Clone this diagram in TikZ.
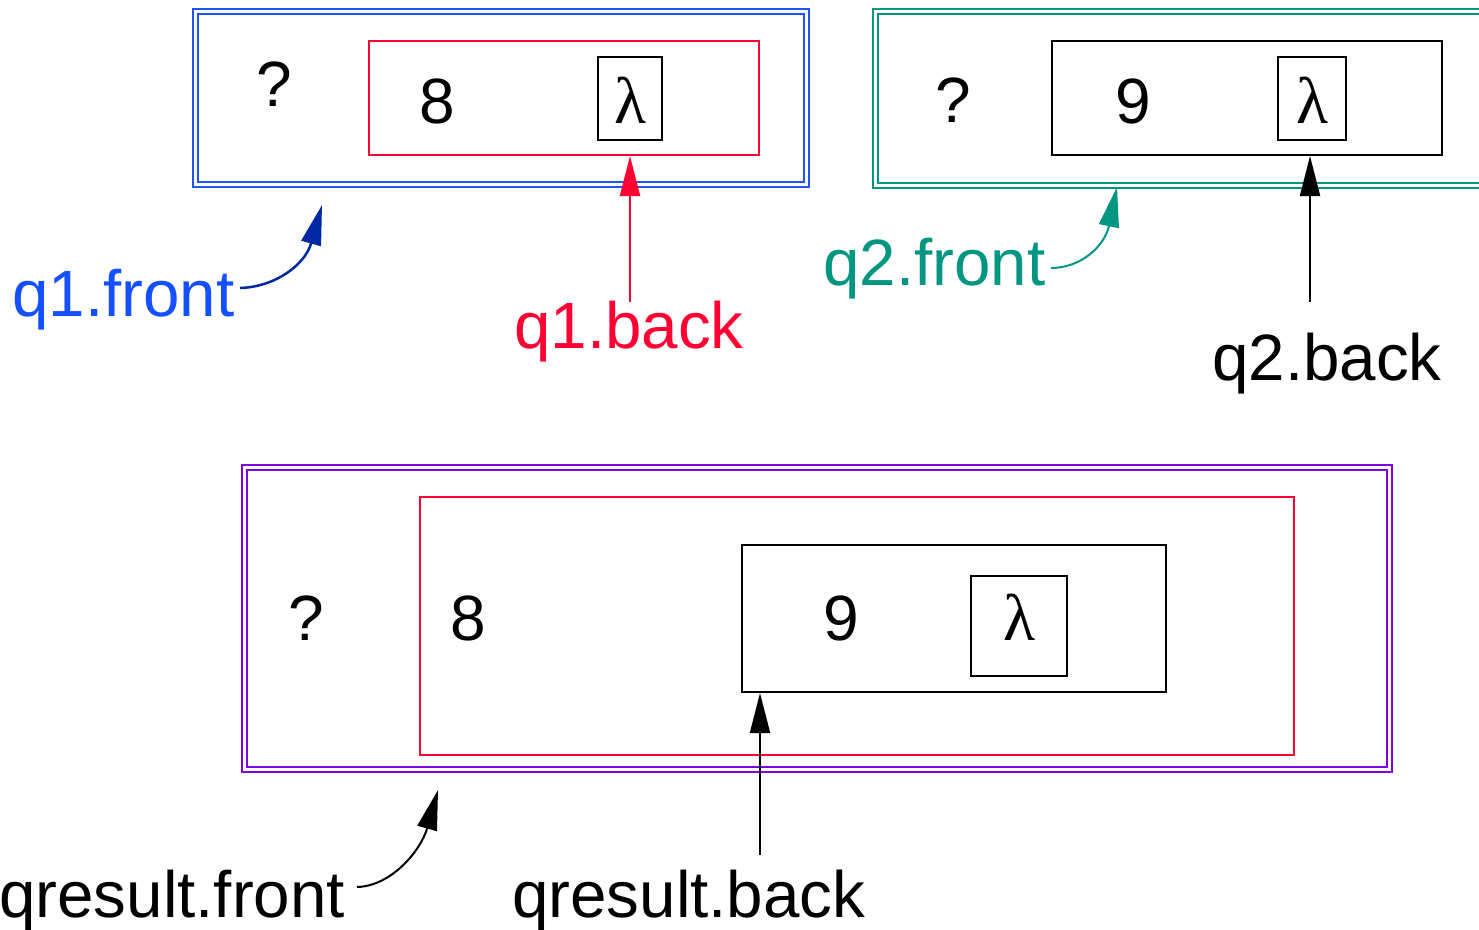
\documentclass[tikz,border=0pt]{standalone}
\usepackage{fontspec}
\setmainfont{Liberation Sans}
\newfontfamily\greekserif{Liberation Serif}
\usetikzlibrary{arrows.meta}
\definecolor{qblue}{RGB}{30,85,245}
\definecolor{qbluetext}{RGB}{20,80,255}
\definecolor{qdarkblue}{RGB}{0,40,160}
\definecolor{qred}{RGB}{255,0,51}
\definecolor{qteal}{RGB}{0,150,130}
\definecolor{qpurple}{RGB}{128,0,224}
\begin{document}
\begin{tikzpicture}[x=1pt,y=-1pt,
  big/.style={font=\fontsize{64}{72}\selectfont},
  lbl/.style={inner sep=0pt,anchor=base west,font=\fontsize{65.5}{72}\selectfont},
  sym/.style={big,inner sep=0pt,anchor=base},
  lam/.style={sym,font=\fontsize{66}{72}\selectfont\greekserif},
  cell/.style={draw,rectangle,inner sep=0pt},
  outerbox/.style={cell,double=white,line width=2pt,double distance=3pt},
  box/.style={cell,line width=2pt},
  lambox/.style={cell,line width=2.5pt},
  tip/.style={-{Triangle[length=40pt,width=20pt]}},
  conn/.style={line width=2pt,tip},
]
\clip (0,0) rectangle (1479,929);
\fill[white] (0,0) rectangle (1479,929);

% ---- queue q1 ----
\node[outerbox,draw=qblue,minimum width=611pt,minimum height=173pt] (q1out) at (501,98) {};
\node[box,draw=qred,minimum width=390pt,minimum height=114pt] (q1in) at (564,98) {};
\node[lambox,minimum width=64pt,minimum height=83pt] (lam1) at (630,98.5) {};
\node[sym] (q1q) at (274,106) {?};
\node[sym] (q1v) at (437,123) {8};
\node[lam] (q1l) at (630,123) {λ};

% ---- queue q2 ----
\node[outerbox,draw=qteal,minimum width=625pt,minimum height=174pt] (q2out) at (1187.5,98) {};
\node[box,minimum width=390pt,minimum height=114pt] (q2in) at (1247,98) {};
\node[lambox,minimum width=68pt,minimum height=83pt] (lam2) at (1312,98.5) {};
\node[sym] (q2q) at (953,122) {?};
\node[sym] (q2v) at (1133,123) {9};
\node[lam] (q2l) at (1312,123) {λ};

% ---- qresult ----
\node[outerbox,draw=qpurple,minimum width=1145pt,minimum height=302pt] (qrout) at (816.5,618) {};
\node[box,draw=qred,minimum width=874pt,minimum height=258pt] (qrmid) at (857,626) {};
\node[box,minimum width=424pt,minimum height=147pt] (qrin) at (954,618.5) {};
\node[lambox,minimum width=96pt,minimum height=100pt] (lam3) at (1019,626) {};
\node[sym] (qrq) at (306,640) {?};
\node[sym] (qr8) at (468,640) {8};
\node[sym] (qr9) at (841,640) {9};
\node[lam] (qrl) at (1019,640) {λ};

% ---- pointer labels ----
\node[lbl,text=qbluetext] (q1front) at (12,316) {q1.front};
\node[lbl,text=qred] (q1back) at (514,348) {q1.back};
\node[lbl,text=qteal] (q2front) at (823,285) {q2.front};
\node[lbl] (q2back) at (1212,380) {q2.back};
\node[lbl] (qrfront) at (-1,917) {qresult.front};
\node[lbl] (qrback) at (512,917) {qresult.back};

% ---- pointer arrows ----
\coordinate (q1ftail) at (240,288);
\coordinate (q1ftip) at (322,205);
\draw[conn,qdarkblue,line width=2.5pt] (q1ftail) .. controls (275,287) and (305,265) .. (q1ftip);

\coordinate (q1btail) at (630,302);
\draw[conn,qred] (q1btail) -- (q1btail |- q1in.south);

\coordinate (q2ftail) at (1051,268);
\coordinate (q2ftip) at (1117,187);
\draw[conn,qteal] (q2ftail) .. controls (1082,268) and (1105,245) .. (q2ftip);

\coordinate (q2btail) at (1310,302);
\draw[conn] (q2btail) -- (q2btail |- q2in.south);

\coordinate (qrftail) at (357,887);
\coordinate (qrftip) at (438,790);
\draw[conn] (qrftail) .. controls (392,886) and (421,850) .. (qrftip);

\coordinate (qrbtail) at (760,855);
\draw[conn] (qrbtail) -- (qrbtail |- qrin.south);
\end{tikzpicture}
\end{document}
